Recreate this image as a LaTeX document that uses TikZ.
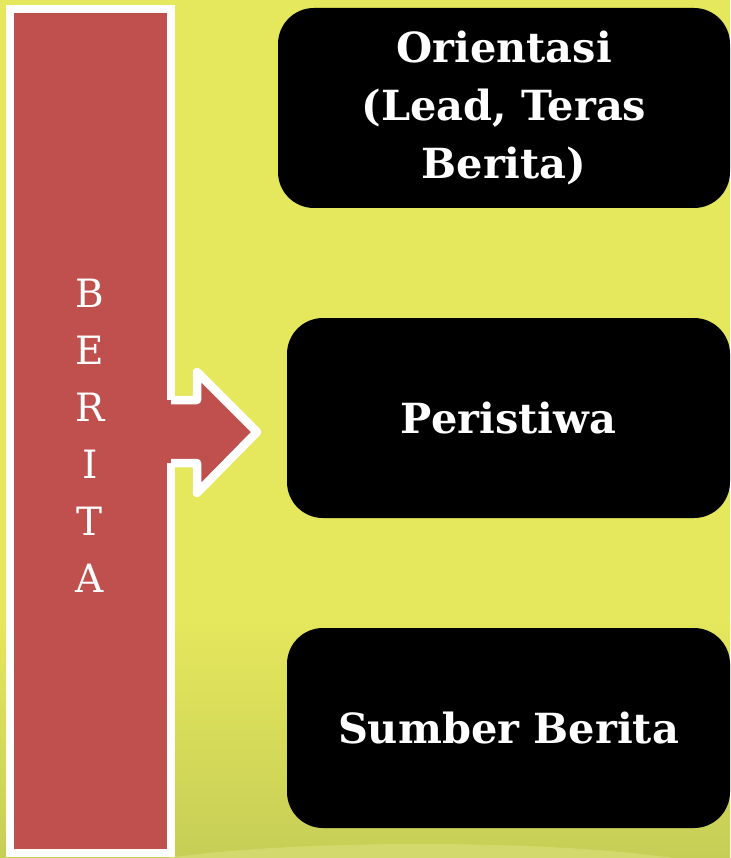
\documentclass[tikz,border=0pt]{standalone}
\usepackage{fontspec}
\setmainfont{DejaVu Serif}
\usepackage{tikz}
\usetikzlibrary{positioning,calc}
\definecolor{bgyellow}{RGB}{229,231,92}
\definecolor{bggreen}{RGB}{198,206,86}
\definecolor{bglight}{RGB}{236,238,150}
\definecolor{barred}{RGB}{192,80,77}
\tikzstyle{bar} = [rectangle, fill = barred, draw = white, line width = 8pt, minimum width = 161pt, minimum height = 844pt, inner sep = 0pt, outer sep = 0pt]
\tikzstyle{box} = [rectangle, rounded corners = 36pt, fill = black, minimum height = 200pt, text = white, text centered, font = \fontsize{41.5}{58}\selectfont\bfseries]

\begin{document}
\begin{tikzpicture}[
x=1pt,y=-1pt,
letters/.style={text=white,align=center,font=\fontsize{39}{57}\selectfont},
block/.style={fill=barred},
edge/.style={draw=white,line width=8.5pt,line join=round},
every node/.style={align=center}]

% background
\useasboundingbox (0,0) rectangle (730,858);
\fill[bgyellow] (0,0) rectangle (730,858);
\shade[top color=bgyellow,bottom color=bggreen] (0,620) rectangle (730,858);
\fill[bglight,opacity=.35] (420,880) ellipse (320 and 36);

% left bar
\node[bar] (bar) at (90.5,431) {};
\node[letters] (title) at (90,436) {B\\E\\R\\I\\T\\A};

% arrow out of the bar
\fill[block] ($(bar.east)+(-8,-31)$) -- ($(bar.east)+(26,-31)$) -- ($(bar.east)+(26,-59)$)
  -- ($(bar.east)+(86,1)$) -- ($(bar.east)+(26,62)$) -- ($(bar.east)+(26,32)$)
  -- ($(bar.east)+(-8,32)$) -- cycle;
\draw[edge] ($(bar.east)+(0,-31)$) -- ($(bar.east)+(26,-31)$) -- ($(bar.east)+(26,-59)$)
  -- ($(bar.east)+(86,1)$) -- ($(bar.east)+(26,62)$) -- ($(bar.east)+(26,32)$)
  -- ($(bar.east)+(0,32)$);

% boxes
\node[box, minimum width=452pt] (orient) at (504,108) {Orientasi\\(Lead, Teras\\Berita)};
\node[box, minimum width=443pt] (event) at (508.5,418) {Peristiwa};
\node[box, minimum width=443pt] (source) at (508.5,728) {Sumber Berita};
\end{tikzpicture}
\end{document}
